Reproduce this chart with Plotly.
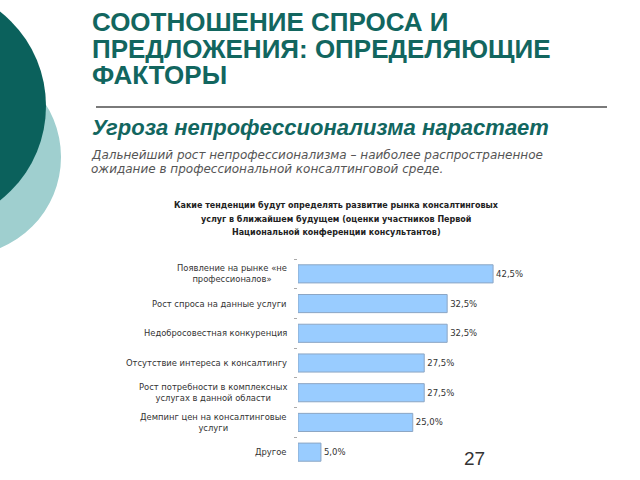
import plotly.graph_objects as go

W, H = 640, 480

categories = [
    "Появление на рынке «не<br>профессионалов»",
    "Рост спроса на данные услуги",
    "Недобросовестная конкуренция",
    "Отсутствие интереса к консалтингу",
    "Рост потребности в комплексных<br>услугах в данной области",
    "Демпинг цен на консалтинговые<br>услуги",
    "Другое",
]
values = [42.5, 32.5, 32.5, 27.5, 27.5, 25.0, 5.0]
value_labels = [f"{v:.1f}%".replace(".", ",") for v in values]

title_lines = ["СООТНОШЕНИЕ СПРОСА И", "ПРЕДЛОЖЕНИЯ: ОПРЕДЕЛЯЮЩИЕ", "ФАКТОРЫ"]
subtitle = "Угроза непрофессионализма нарастает"
paragraph = ["Дальнейший рост непрофессионализма – наиболее распространенное",
             "ожидание в профессиональной консалтинговой среде."]
chart_title = ["Какие тенденции будут определять развитие рынка консалтинговых",
               "услуг в ближайшем будущем (оценки участников Первой",
               "Национальной конференции консультантов)"]
page_no = "27"


def px(x):
    return x / W


def py(y):
    return 1 - y / H


fig = go.Figure()
fig.add_trace(go.Bar(
    x=values, y=categories, orientation="h",
    marker=dict(color="#99ccff", line=dict(color="#8ca6c4", width=1)),
    text=value_labels, textposition="outside", cliponaxis=False,
    textfont=dict(family="DejaVu Sans", size=8.5, color="#333333"),
    width=0.61,
))

annotations = []
teal = "#12665f"
for i, t in enumerate(title_lines):
    annotations.append(dict(text=f"<b>{t}</b>", x=px(90), y=py(22 + 26.5 * i), xref="paper", yref="paper",
                            xanchor="left", yanchor="middle", showarrow=False,
                            font=dict(family="Liberation Sans", size=26, color=teal)))
annotations.append(dict(text=f"<b><i>{subtitle}</i></b>", x=px(90), y=py(128), xref="paper", yref="paper",
                        xanchor="left", yanchor="middle", showarrow=False,
                        font=dict(family="Liberation Sans", size=22, color=teal)))
for i, t in enumerate(paragraph):
    annotations.append(dict(text=f"<i>{t}</i>", x=px(89), y=py(155 + 14 * i), xref="paper", yref="paper",
                            xanchor="left", yanchor="middle", showarrow=False,
                            font=dict(family="DejaVu Sans", size=12, color="#555555")))
for i, t in enumerate(chart_title):
    annotations.append(dict(text=f"<b>{t}</b>", x=px(336), y=py(205 + 14 * i), xref="paper", yref="paper",
                            xanchor="center", yanchor="middle", showarrow=False,
                            font=dict(family="DejaVu Sans", size=8, color="#222222")))
for c in categories:
    annotations.append(dict(text=c, x=px(289), y=c, xref="paper", yref="y",
                            xanchor="right", yanchor="middle", align="center", showarrow=False,
                            font=dict(family="DejaVu Sans", size=8.4, color="#333333")))
annotations.append(dict(text=page_no, x=px(474), y=py(458), xref="paper", yref="paper",
                        xanchor="center", yanchor="middle", showarrow=False,
                        font=dict(family="Liberation Sans", size=19, color="#333333")))

shapes = [
    dict(type="circle", xref="paper", yref="paper", layer="below",
         x0=px(-37.4 - 98.4), x1=px(-37.4 + 98.4), y0=py(157 + 98.4), y1=py(157 - 98.4),
         fillcolor="#9fcfcf", line=dict(width=0)),
    dict(type="circle", xref="paper", yref="paper", layer="below",
         x0=px(-74 - 120), x1=px(-74 + 120), y0=py(106 + 120), y1=py(106 - 120),
         fillcolor="#0b615c", line=dict(width=0)),
    dict(type="line", xref="paper", yref="paper", x0=px(96), x1=px(607), y0=py(107), y1=py(107),
         line=dict(color="#7a7a7a", width=2)),
]

fig.update_layout(
    width=W, height=H, margin=dict(l=0, r=0, t=0, b=0),
    paper_bgcolor="white", plot_bgcolor="white", showlegend=False,
    annotations=annotations, shapes=shapes,
    xaxis=dict(domain=[px(298), px(298 + 45 * 4.59)], range=[0, 45], visible=False, fixedrange=True),
    yaxis=dict(domain=[1 - 467 / H, 1 - 259 / H], autorange="reversed", showticklabels=False,
               ticks="outside", ticklen=3, tickcolor="#aaaaaa", tickson="boundaries",
               showline=False, showgrid=False, zeroline=False, fixedrange=True),
)

fig.write_html("out.html")
